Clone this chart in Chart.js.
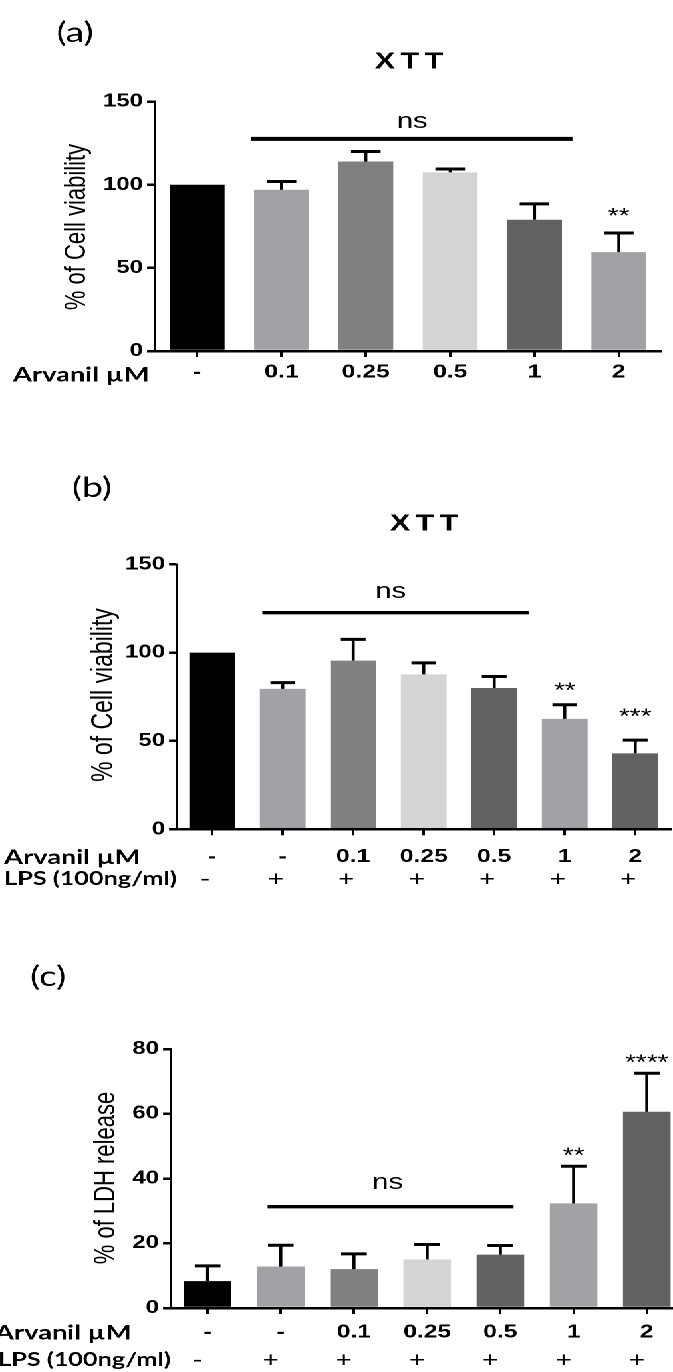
<!DOCTYPE html>
<html>
<head>
<meta charset="utf-8">
<script src="https://cdn.jsdelivr.net/npm/chart.js@4.4.1/dist/chart.umd.min.js"></script>
<style>
    html, body { margin: 0; padding: 0; background: #fff; }
    body { width: 673px; height: 1372px; overflow: hidden; position: relative; }
    /* the original figure is stretched sideways, so the whole drawing is too */
    #stretch { position: absolute; left: 0; top: 0; width: 530px; height: 1372px; transform: scaleX(1.33); transform-origin: 0 0; }
    #stretch canvas { position: absolute; left: 0; }
    #chartA { top: 0; }
    #chartB { top: 440px; }
    #chartC { top: 895px; }
</style>
</head>
<body>
<div id="stretch">
    <canvas id="chartA" width="506" height="440"></canvas>
    <canvas id="chartB" width="506" height="455"></canvas>
    <canvas id="chartC" width="526" height="477"></canvas>
</div>
<script>
// ---- data ----
const arvanilA = ["-", "0.1", "0.25", "0.5", "1", "2"];
const viabilityA = [100, 97, 114, 107.5, 79, 59.5];
const viabilityErrA = [0, 5, 6, 2, 9.5, 11.5];
const starsA = ["", "", "", "", "", "**"];

const arvanilBC = ["-", "-", "0.1", "0.25", "0.5", "1", "2"];
const lpsBC = ["-", "+", "+", "+", "+", "+", "+"];

const viabilityB = [100, 79.5, 95.5, 87.7, 80, 62.5, 43];
const viabilityErrB = [0, 3.5, 12, 6.5, 6.5, 8, 7.5];
const starsB = ["", "", "", "", "", "**", "***"];

const ldhC = [8.3, 12.8, 12, 15, 16.5, 32.3, 60.6];
const ldhErrC = [4.7, 6.6, 4.7, 4.6, 2.8, 11.5, 11.9];
const starsC = ["", "", "", "", "", "**", "****"];

const viabilityTicks = [0, 50, 100, 150];
const ldhTicks = [0, 20, 40, 60, 80];

// ---- styling ----
const S = 1.33;          // horizontal stretch
const Y_AXIS_W = 40;
const X_AXIS_H = 60;
const ARIAL = "'Liberation Sans', Arial, sans-serif";
const CALIBRI = "Lato, 'Open Sans', sans-serif";

const BLACK = "#000000", LIGHT = "#a2a2a6", MID = "#808080", PALE = "#d4d4d4", DARK = "#626262";
const colorsA = [BLACK, LIGHT, MID, PALE, DARK, LIGHT];
const colorsBC = [BLACK, LIGHT, MID, PALE, DARK, LIGHT, DARK];

function decorPlugin(p) {
    return {
        id: "decor" + p.tag,
        afterDatasetsDraw(chart) {
            const { ctx } = chart;
            const xs = chart.scales.x;
            const ys = chart.scales.y;
            const bars = chart.getDatasetMeta(0).data;

            ctx.save();
            ctx.strokeStyle = "#000";
            ctx.fillStyle = "#000";
            ctx.lineCap = "butt";

            // error bars (upper half only)
            p.errors.forEach((err, i) => {
                if (!err) return;
                const bar = bars[i];
                const yTop = ys.getPixelForValue(p.values[i] + err);
                ctx.lineWidth = 2.3;
                ctx.beginPath();
                ctx.moveTo(bar.x, bar.y);
                ctx.lineTo(bar.x, yTop);
                ctx.stroke();
                const half = bar.width * 0.27;
                ctx.lineWidth = 3;
                ctx.beginPath();
                ctx.moveTo(bar.x - half, yTop);
                ctx.lineTo(bar.x + half, yTop);
                ctx.stroke();
            });

            // "ns" bracket line
            const ns = p.ns;
            const nsY = ys.getPixelForValue(ns.lineValue);
            ctx.lineWidth = ns.thickness;
            ctx.beginPath();
            ctx.moveTo(xs.getPixelForValue(ns.from), nsY);
            ctx.lineTo(xs.getPixelForValue(ns.to), nsY);
            ctx.stroke();
            ctx.font = `22px ${ARIAL}`;
            ctx.textAlign = "center";
            ctx.textBaseline = "alphabetic";
            ctx.fillText("ns", xs.getPixelForValue(ns.textAt), ys.getPixelForValue(ns.textValue) + 5.5);

            // significance stars
            ctx.font = `21px ${ARIAL}`;
            p.stars.forEach((txt, i) => {
                if (!txt) return;
                ctx.fillText(txt, xs.getPixelForValue(i), ys.getPixelForValue(p.starValues[i]) + 12);
            });

            // panel tag
            ctx.font = `28px ${CALIBRI}`;
            ctx.textBaseline = "middle";
            ctx.fillText(p.tag, p.tagPos[0] / S, p.tagPos[1]);

            // title
            if (p.title) {
                ctx.font = `bold 23px ${ARIAL}`;
                if ("letterSpacing" in ctx) ctx.letterSpacing = "4px";
                ctx.fillText(p.title, p.titlePos[0] / S + 2, p.titlePos[1]);
                if ("letterSpacing" in ctx) ctx.letterSpacing = "0px";
            }

            // y axis title
            ctx.save();
            ctx.translate(p.yTitlePos[0] / S, p.yTitlePos[1]);
            ctx.rotate(-Math.PI / 2);
            ctx.font = `${p.yTitleSize}px ${ARIAL}`;
            ctx.fillText(p.yTitle, 0, 0);
            ctx.restore();

            // row captions under the axis
            ctx.textAlign = "left";
            ctx.font = `bold 20.5px ${CALIBRI}`;
            ctx.fillText("Arvanil \u00b5M", p.rowX[0] / S, p.rowY[0]);
            if (p.lps) {
                ctx.font = `bold 19px ${CALIBRI}`;
                ctx.fillText("LPS (100ng/ml)", p.rowX[1] / S, p.rowY[1]);
                ctx.textAlign = "center";
                ctx.font = `21px ${CALIBRI}`;
                p.lps.forEach((sym, i) => {
                    ctx.fillText(sym, xs.getPixelForValue(i) - p.lpsShift / S, p.rowY[1]);
                });
            }
            ctx.restore();
        }
    };
}

function buildPanel(canvasId, p) {
    const canvas = document.getElementById(canvasId);
    const W = canvas.width;
    const H = canvas.height;
    return new Chart(canvas, {
        type: "bar",
        data: {
            labels: p.labels,
            datasets: [{
                data: p.values,
                backgroundColor: p.colors,
                borderWidth: 0,
                barPercentage: 0.65,
                categoryPercentage: 1
            }]
        },
        options: {
            responsive: false,
            animation: false,
            devicePixelRatio: 2,
            layout: {
                padding: {
                    left: p.area.left / S - Y_AXIS_W,
                    right: W - p.area.right / S,
                    top: p.area.top,
                    bottom: H - p.area.bottom - X_AXIS_H
                }
            },
            plugins: { legend: { display: false }, tooltip: { enabled: false } },
            scales: {
                x: {
                    offset: true,
                    grid: { offset: false, drawOnChartArea: false, color: "#000", lineWidth: 2, tickLength: 6 },
                    border: { color: "#000", width: 2.5 },
                    ticks: {
                        color: "#000",
                        font: { family: ARIAL, weight: "bold", size: 18.5 },
                        padding: p.xPad,
                        maxRotation: 0,
                        autoSkip: false
                    },
                    afterFit: (scale) => { scale.height = X_AXIS_H; }
                },
                y: {
                    min: 0,
                    max: p.yTicks[p.yTicks.length - 1],
                    grid: { drawOnChartArea: false, color: "#000", lineWidth: 2.5, tickLength: 6 },
                    border: { color: "#000", width: 2 },
                    ticks: {
                        color: "#000",
                        font: { family: ARIAL, weight: "bold", size: 18 },
                        padding: 3
                    },
                    afterBuildTicks: (scale) => { scale.ticks = p.yTicks.map((v) => ({ value: v })); },
                    afterFit: (scale) => { scale.width = Y_AXIS_W; }
                }
            }
        },
        plugins: [decorPlugin(p)]
    });
}

document.addEventListener("DOMContentLoaded", () => {
    buildPanel("chartA", {
        tag: "(a)", tagPos: [75, 33],
        title: "XTT", titlePos: [409, 62],
        yTitle: "% of Cell viability", yTitleSize: 22, yTitlePos: [77, 227],
        labels: arvanilA, values: viabilityA, errors: viabilityErrA, colors: colorsA,
        yTicks: viabilityTicks,
        area: { left: 155, right: 661, top: 101.7, bottom: 351 },
        xPad: 4.5,
        ns: { from: 0.64, to: 4.45, lineValue: 127.6, textAt: 2.55, textValue: 137.4, thickness: 4 },
        stars: starsA, starValues: [0, 0, 0, 0, 0, 84.4],
        rowX: [13], rowY: [375]
    });

    buildPanel("chartB", {
        tag: "(b)", tagPos: [92, 48],
        title: "XTT", titlePos: [424, 84],
        yTitle: "% of Cell viability", yTitleSize: 23, yTitlePos: [104, 255],
        labels: arvanilBC, values: viabilityB, errors: viabilityErrB, colors: colorsBC,
        yTicks: viabilityTicks,
        area: { left: 177, right: 670.5, top: 124.3, bottom: 389.3 },
        xPad: 10.5,
        ns: { from: 0.71, to: 4.49, lineValue: 122.6, textAt: 2.53, textValue: 133.9, thickness: 3.4 },
        stars: starsB, starValues: [0, 0, 0, 0, 0, 81.7, 67.1],
        rowX: [4, 4], rowY: [417.5, 439],
        lps: lpsBC, lpsShift: 7
    });

    buildPanel("chartC", {
        tag: "(c)", tagPos: [48, 82],
        title: "",
        yTitle: "% of LDH release", yTitleSize: 22, yTitlePos: [106, 283],
        labels: arvanilBC, values: ldhC, errors: ldhErrC, colors: colorsBC,
        yTicks: ldhTicks,
        area: { left: 171, right: 683.4, top: 154, bottom: 413 },
        xPad: 7.5,
        ns: { from: 0.82, to: 4.18, lineValue: 31.3, textAt: 2.46, textValue: 38.5, thickness: 3.4 },
        stars: starsC, starValues: [0, 0, 0, 0, 0, 48.8, 77.6],
        rowX: [-5, -2], rowY: [438, 465],
        lps: lpsBC, lpsShift: 10
    });
});
</script>
</body>
</html>
